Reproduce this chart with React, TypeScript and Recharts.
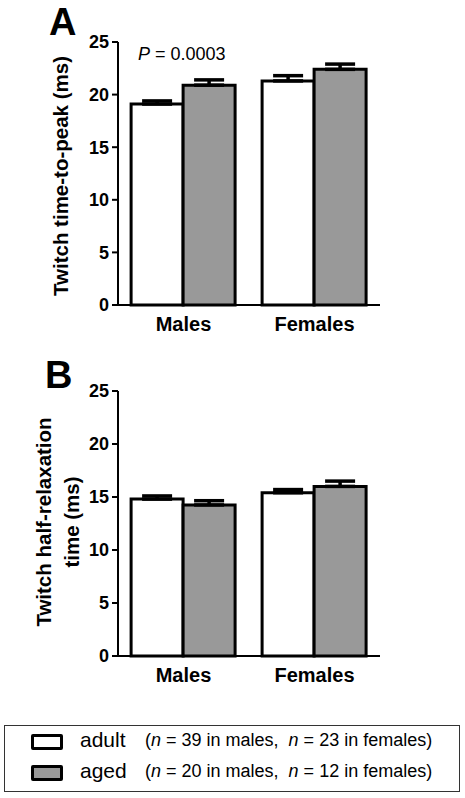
import { BarChart, Bar, XAxis, YAxis, ErrorBar } from "recharts";

const categories = ["Males", "Females"];
const yTicks = [0, 5, 10, 15, 20, 25];

// panel A: twitch time-to-peak (ms)
const adultPeak = [19.1, 21.3];
const agedPeak = [20.9, 22.4];
const adultPeakErr = [0.3, 0.5];
const agedPeakErr = [0.5, 0.5];

// panel B: twitch half-relaxation time (ms)
const adultRelax = [14.8, 15.4];
const agedRelax = [14.25, 16.0];
const adultRelaxErr = [0.3, 0.3];
const agedRelaxErr = [0.4, 0.5];

const legendItems = [
  { name: "adult", fill: "#ffffff", nMales: 39, nFemales: 23 },
  { name: "aged", fill: "#999999", nMales: 20, nFemales: 12 },
];

const font = "'Liberation Sans', Arial, Helvetica, sans-serif";
const AGED = "#999999";

function rows(adult: number[], aged: number[], adultErr: number[], agedErr: number[]) {
  return categories.map((cat, i) => ({
    cat,
    adult: adult[i],
    aged: aged[i],
    adultErr: [0, adultErr[i]],
    agedErr: [0, agedErr[i]],
  }));
}

function Panel({ data, height, bottom }: { data: any[]; height: number; bottom: number }) {
  const tick = { fill: "#000", fontSize: 18, fontWeight: "bold", fontFamily: font };
  return (
    <BarChart width={465} height={height} data={data}
      margin={{ top: 42, right: 85, bottom, left: 58 }}
      barCategoryGap="10%" barGap={0}>
      <XAxis dataKey="cat" tickLine={false} height={30} tickMargin={6}
        axisLine={{ stroke: "#000", strokeWidth: 2 }}
        tick={{ ...tick, fontSize: 20 }} />
      <YAxis domain={[0, 25]} ticks={yTicks} interval={0} width={60}
        tickSize={6} tickMargin={3}
        axisLine={{ stroke: "#000", strokeWidth: 2 }}
        tickLine={{ stroke: "#000", strokeWidth: 2 }}
        tick={tick} />
      <Bar dataKey="adult" fill="#fff" stroke="#000" strokeWidth={3} isAnimationActive={false}>
        <ErrorBar dataKey="adultErr" width={15} stroke="#000" strokeWidth={3.5} isAnimationActive={false} />
      </Bar>
      <Bar dataKey="aged" fill={AGED} stroke="#000" strokeWidth={3} isAnimationActive={false}>
        <ErrorBar dataKey="agedErr" width={15} stroke="#000" strokeWidth={3.5} isAnimationActive={false} />
      </Bar>
    </BarChart>
  );
}

const rotated = (cx: number, cy: number): React.CSSProperties => ({
  position: "absolute", left: cx, top: cy,
  transform: "translate(-50%, -50%) rotate(-90deg)",
  whiteSpace: "nowrap", fontFamily: font, fontWeight: "bold", fontSize: 20.5,
  textAlign: "center", lineHeight: "28px",
});

export default function App() {
  const peakRows = rows(adultPeak, agedPeak, adultPeakErr, agedPeakErr);
  const relaxRows = rows(adultRelax, agedRelax, adultRelaxErr, agedRelaxErr);
  return (
    <div style={{ position: "absolute", left: 0, top: 0, width: 465, height: 798, background: "#fff", fontFamily: font }}>
      <div style={{ position: "absolute", left: 0, top: 0 }}>
        <Panel data={peakRows} height={346} bottom={11} />
      </div>
      <div style={{ position: "absolute", left: 0, top: 349 }}>
        <Panel data={relaxRows} height={350} bottom={13} />
      </div>

      <div style={{ position: "absolute", left: 49, top: 3, fontSize: 38, fontWeight: "bold", lineHeight: 1 }}>A</div>
      <div style={{ position: "absolute", left: 45, top: 356, fontSize: 38, fontWeight: "bold", lineHeight: 1 }}>B</div>

      <div style={{ position: "absolute", left: 138, top: 44, fontSize: 18 }}>
        <i>P</i> = 0.0003
      </div>

      <div style={rotated(61, 176)}>Twitch time-to-peak (ms)</div>
      <div style={rotated(58, 522)}>Twitch half-relaxation<br />time (ms)</div>

      <div style={{ position: "absolute", left: 4, top: 725, width: 454, height: 65, border: "1.5px solid #333" }}>
        {legendItems.map((it, i) => (
          <div key={it.name} style={{ position: "absolute", left: 0, top: 1 + i * 31, height: 30 }}>
            <div style={{ position: "absolute", left: 26, top: 7, width: 26, height: 10, background: it.fill, border: "3px solid #000", borderRadius: 2 }} />
            <span style={{ position: "absolute", left: 75, top: 0, fontSize: 21, whiteSpace: "nowrap", lineHeight: "26px" }}>{it.name}</span>
            <span style={{ position: "absolute", left: 140, top: 2, fontSize: 18, whiteSpace: "nowrap", lineHeight: "22px" }}>
              (<i>n</i> = {it.nMales} in males,&nbsp; <i>n</i> = {it.nFemales} in females)
            </span>
          </div>
        ))}
      </div>
    </div>
  );
}
